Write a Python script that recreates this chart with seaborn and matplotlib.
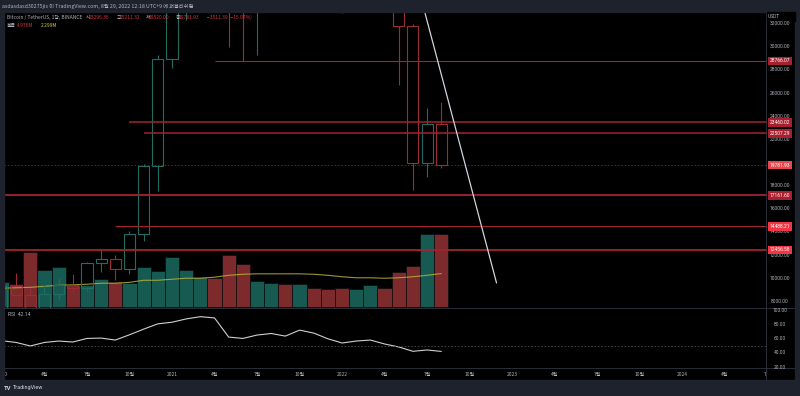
import numpy as np
import pandas as pd
import matplotlib
matplotlib.use("Agg")
import matplotlib.pyplot as plt
import matplotlib.transforms as mtransforms
from matplotlib.patches import Rectangle
from matplotlib.lines import Line2D
import seaborn as sns

# ---------------- data ----------------
months = pd.date_range("2020-01-01", "2022-08-01", freq="MS")
opens = [7195.24, 9351.71, 8599.50, 6412.14, 8620.00, 9448.27, 9138.08, 11335.46,
         11649.51, 10776.59, 13791.00, 19695.87, 28923.63, 33092.97, 45134.11, 58739.46,
         57697.25, 37254.24, 35045.00, 41461.84, 47100.89, 43820.01, 61300.00, 56950.56,
         46216.93, 38466.90, 43160.00, 45510.35, 37631.83, 31801.05, 19942.21, 23296.36]
highs = [9578.00, 10500.00, 9188.00, 9460.00, 10067.00, 10380.00, 11444.00, 12468.00,
         12050.85, 14100.00, 19863.16, 29300.00, 41950.00, 58352.80, 61844.00, 64854.00,
         59592.20, 41330.00, 42448.00, 50500.00, 52920.00, 67000.00, 69000.00, 59053.55,
         47990.00, 45821.00, 48189.84, 47444.11, 40023.77, 31982.97, 24668.00, 25211.32]
lows = [6871.04, 8445.00, 3782.13, 6150.11, 8117.00, 8833.00, 8893.03, 10518.50,
        9825.00, 10374.00, 13195.05, 17572.33, 28130.00, 32296.16, 44950.53, 47044.01,
        30000.00, 28805.00, 29278.00, 37332.70, 39600.00, 43283.03, 53256.64, 42000.30,
        32917.17, 34322.28, 37155.00, 37578.20, 26700.00, 17622.00, 18781.00, 19520.00]
closes = [9352.89, 8599.51, 6410.44, 8620.00, 9448.27, 9138.55, 11335.46, 11649.51,
          10776.59, 13791.00, 19695.87, 28923.63, 33092.98, 45135.66, 58740.55, 57694.27,
          37253.81, 35045.00, 41461.83, 47100.89, 43824.10, 61299.80, 56950.56, 46216.93,
          38466.90, 43160.00, 45510.34, 37630.80, 31801.04, 19942.21, 23293.32, 19781.93]
volume_m = [1.70, 1.57, 3.75, 2.52, 2.73, 1.50, 1.50, 1.91, 1.70, 1.64, 2.73, 2.45,
            3.41, 2.52, 2.05, 1.98, 3.54, 2.93, 1.77, 1.64, 1.57, 1.57, 1.30, 1.23,
            1.30, 1.23, 1.50, 1.30, 2.39, 2.79, 4.98, 4.976]
volume_ma_m = [1.30, 1.33, 1.36, 1.43, 1.50, 1.53, 1.57, 1.64, 1.64, 1.70, 1.84, 1.84,
               1.91, 1.98, 1.98, 2.05, 2.18, 2.25, 2.28, 2.28, 2.28, 2.28, 2.25, 2.18,
               2.08, 2.01, 2.01, 1.98, 2.01, 2.08, 2.18, 2.299]
rsi = [57.3, 54.9, 49.9, 54.9, 56.9, 55.5, 60.6, 61.1, 58.3, 65.8, 73.8, 81.3,
       83.6, 88.3, 91.5, 89.7, 62.5, 60.6, 65.4, 67.6, 63.9, 72.4, 68.2, 60.1,
       54.1, 56.9, 58.3, 52.7, 48.5, 42.3, 44.2, 42.14]
level_prices = [28766.07, 23460.02, 22507.29, 17161.60, 14488.21, 12456.58]
level_start = ["2021-04-01", "2020-10-01", "2020-11-01", None, "2020-09-01", None]
level_label_colors = ["#a8202f", "#a8202f", "#a8202f", "#a8202f", "#f23645", "#f23645"]
level_widths = [0.8, 1.1, 1.1, 1.3, 0.8, 1.3]
last_price = 19781.93
trend_dates = ["2022-06-26", "2022-11-28"]
trend_prices = [33000, 9600]
price_ticks = [8000, 10000, 12000, 14000, 16000, 18000, 20000, 22000, 24000,
               26000, 28000, 30000, 32000]
rsi_ticks = [20, 40, 60, 80, 100]
time_tick_labels = ["2020", "4월", "7월", "10월", "2021", "4월", "7월", "10월", "2022",
                    "4월", "7월", "10월", "2023", "4월", "7월", "10월", "2024", "4월", "7월"]

# ---------------- style ----------------
sns.set_theme(style="dark")
FAM = ["Roboto", "Noto Sans CJK KR", "DejaVu Sans"]
FAM_KR = ["Noto Sans CJK KR", "DejaVu Sans"]
plt.rcParams["font.family"] = FAM

W, H = 800, 396
fig = plt.figure(figsize=(W / 100, H / 100), dpi=100, facecolor="black")

def fx(px):
    return px / W

def fy(py):
    return 1 - py / H

GREEN_E = "#1f6d63"
RED_E = "#9b2c35"
GREEN_V = "#175a52"
RED_V = "#7c2a2b"
TXT = "#b2b5be"
PANEL = "#1e222d"
SEP = "#2a2e39"

x = np.arange(len(months))
def month_index(d):
    d = pd.Timestamp(d)
    return (d.year - 2020) * 12 + (d.month - 1) + (d.day - 1) / d.days_in_month

XL = (0.144, 53.88)
main_rect = [fx(4), fy(308), fx(761.5), 296 / H]
ax_vol = fig.add_axes(main_rect)
ax = fig.add_axes(main_rect)
ax_rsi = fig.add_axes([fx(4), fy(368), fx(761.5), 59.5 / H])
ax_time = fig.add_axes([fx(4), fy(380), fx(761.5), 12 / H])

for a in (ax_vol, ax_rsi, ax_time):
    a.set_facecolor("black")
ax.set_facecolor("none")
for a in (ax_vol, ax, ax_rsi, ax_time):
    a.set_xlim(*XL)
    a.set_xticks([])
    a.set_yticks([])
    a.grid(False)
    for s in a.spines.values():
        s.set_visible(False)

# ---------------- volume ----------------
up = np.array(closes) >= np.array(opens)
vol_colors = [GREEN_V if u else RED_V for u in up]
ax_vol.bar(x, volume_m, width=1.0, color=vol_colors, edgecolor="#0b0b0b", linewidth=0.5)
sns.lineplot(x=x, y=volume_ma_m, ax=ax_vol, color="#b5b03a", lw=0.8, alpha=0.85)
ax_vol.set_ylim(-0.05, 20.13)
ax_vol.set_xlabel(""); ax_vol.set_ylabel("")

# ---------------- candles ----------------
o = np.array(opens); c = np.array(closes)
body_lo = np.minimum(o, c); body_hi = np.maximum(o, c)
cand_colors = [GREEN_E if u else RED_E for u in up]
ax.bar(x, body_hi - body_lo, bottom=body_lo, width=0.78, fill=False,
       edgecolor=cand_colors, linewidth=0.8, zorder=3)
ax.vlines(x, body_hi, highs, colors=cand_colors, linewidth=0.8, zorder=3)
ax.vlines(x, lows, body_lo, colors=cand_colors, linewidth=0.8, zorder=3)
ax.set_ylim(7435, 32997)

for p, st, lw in zip(level_prices, level_start, level_widths):
    xs = XL[0] if st is None else month_index(st)
    ax.hlines(p, xs, 60, colors="#a3232f", linewidth=lw, zorder=4)
ax.axhline(last_price, color="#7a2430", lw=0.6, ls=(0, (2, 2)), zorder=2)

tx = [month_index(d) for d in trend_dates]
ax.plot(tx, trend_prices, color="#d1d4dc", lw=0.9, zorder=5)

# ---------------- RSI ----------------
sns.lineplot(x=x, y=rsi, ax=ax_rsi, color="#cfcfcf", lw=0.8)
ax_rsi.axhline(50, color="#4a4a4a", lw=0.6, ls=(0, (2, 2)))
ax_rsi.set_ylim(18.6, 103.1)
ax_rsi.set_xlim(*XL)
ax_rsi.set_xlabel(""); ax_rsi.set_ylabel("")
fig.text(fx(8), fy(315), "RSI  42.14", color=TXT, fontsize=3.6, va="center",
         ha="left", family=FAM)

# ---------------- time axis ----------------
ax_time.set_ylim(0, 1)
for i, lab in enumerate(time_tick_labels):
    ax_time.text(i * 3, 0.5, lab, color=TXT, fontsize=3.5, ha="center",
                 va="center", family=FAM_KR, clip_on=True)

# ---------------- figure chrome ----------------
fig.patches.append(Rectangle((0, fy(12)), 1, 12 / H, transform=fig.transFigure,
                             color=PANEL, zorder=0))
fig.patches.append(Rectangle((0, 0), 1, 16 / H, transform=fig.transFigure,
                             color=PANEL, zorder=0))
fig.patches.append(Rectangle((0, 0), fx(4), 1, transform=fig.transFigure,
                             color=PANEL, zorder=0))
fig.patches.append(Rectangle((fx(795), 0), fx(5), 1, transform=fig.transFigure,
                             color=PANEL, zorder=0))
fig.lines.append(Line2D([fx(765.5), fx(765.5)], [fy(12), fy(380)],
                        transform=fig.transFigure, color=SEP, lw=0.7))
fig.lines.append(Line2D([fx(4), fx(795)], [fy(308.3), fy(308.3)],
                        transform=fig.transFigure, color=SEP, lw=0.7))
fig.lines.append(Line2D([fx(4), fx(795)], [fy(368.2), fy(368.2)],
                        transform=fig.transFigure, color=SEP, lw=0.7))

# price axis labels (skip those hidden under the last-price marker)
trp = mtransforms.blended_transform_factory(fig.transFigure, ax.transData)
for p in price_ticks:
    if abs(p - last_price) < 400:
        continue
    fig.text(fx(780), p, f"{p:.2f}", transform=trp, color=TXT, fontsize=3.5,
             ha="center", va="center", family=FAM, zorder=5)
fig.patches.append(Rectangle((fx(766.5), fy(20.5)), fx(28), 8.5 / H,
                             transform=fig.transFigure, color="black", zorder=5))
fig.text(fx(768), fy(16.5), "USDT", color=TXT, fontsize=3.5, ha="left",
         va="center", family=FAM, zorder=6)
for p, col in zip(level_prices, level_label_colors):
    fig.text(fx(780), p, f"{p:.2f}", transform=trp, color="white", fontsize=3.5,
             ha="center", va="center", family=FAM, zorder=7,
             bbox=dict(boxstyle="square,pad=0.35", fc=col, ec="none"))
fig.text(fx(780), last_price, f"{last_price:.2f}", transform=trp, color="white",
         fontsize=3.5, ha="center", va="center", family=FAM, zorder=7,
         bbox=dict(boxstyle="square,pad=0.35", fc="#e8474f", ec="none"))
trr = mtransforms.blended_transform_factory(fig.transFigure, ax_rsi.transData)
for r in rsi_ticks:
    fig.text(fx(780), r, f"{r:.2f}", transform=trr, color=TXT, fontsize=3.5,
             ha="center", va="center", family=FAM, zorder=5)

# header bar text
fig.text(fx(2.5), fy(6), "asdasdasd30275jis 이 TradingView.com, 8월 29, 2022 12:18 UTC+9 에 퍼블리쉬됨",
         color=TXT, fontsize=3.8, ha="left", va="center", family=FAM_KR)

VRED = "#d7373f"
row1 = [(7, "Bitcoin / TetherUS, 1달, BINANCE", TXT), (86, "시", TXT), (89, "23296.36", VRED),
        (116.5, "고", TXT), (119.5, "25211.32", VRED), (146, "저", TXT), (149, "19520.00", VRED),
        (175.5, "종", TXT), (178.5, "19781.93", VRED), (207, "−3511.39 (−15.07%)", VRED)]
for px_, s, col in row1:
    fig.text(fx(px_), fy(17.5), s, color=col, fontsize=3.5, ha="left", va="center",
             family=FAM_KR)
row2 = [(7, "볼륨", TXT), (17, "4.976M", VRED), (41, "2.299M", "#d6cf2f")]
for px_, s, col in row2:
    fig.text(fx(px_), fy(25.5), s, color=col, fontsize=3.5, ha="left", va="center",
             family=FAM_KR)

fig.text(fx(4), fy(388), "TV", color="#d1d4dc", fontsize=4.2, ha="left", va="center",
         family=FAM, weight="bold")
fig.text(fx(13), fy(388), "TradingView", color="#d1d4dc", fontsize=4.0, ha="left",
         va="center", family=FAM)

fig.savefig("out.png", dpi=100, facecolor="black")
